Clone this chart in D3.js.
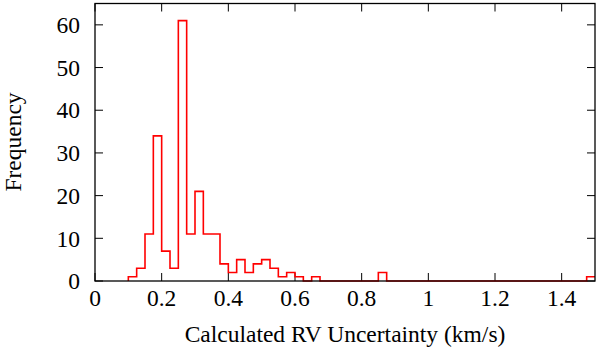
<!DOCTYPE html>
<head>
  <meta charset="utf-8">
  <script src="https://d3js.org/d3.v7.min.js"></script>
  <style type="text/css">
    body { margin: 0; background: #fff; }
    text { font-family: "Liberation Serif", "Times New Roman", serif; fill: #000; }
  </style>
</head>
<body>
  <script type="text/javascript">
    // histogram bins, width 0.025 km/s, starting at 0.1
    var binStart = 0.1,
        binWidth = 0.025;
    var counts = [1, 3, 11, 34, 7, 3, 61, 11, 21, 11, 11, 4,
                  2, 5, 2, 4, 5, 3, 1, 2, 1, 0, 1, 0,
                  0, 0, 0, 0, 0, 0, 2, 0, 0, 0, 0, 0,
                  0, 0, 0, 0, 0, 0, 0, 0, 0, 0, 0, 0,
                  0, 0, 0, 0, 0, 0, 0, 1];
    var xTicks = [0, 0.2, 0.4, 0.6, 0.8, 1, 1.2, 1.4];
    var yTicks = [0, 10, 20, 30, 40, 50, 60];

    var W = 600, H = 355;
    var margin = { top: 3.5, right: 5, bottom: 74, left: 95 },
        width = W - margin.left - margin.right,
        height = H - margin.top - margin.bottom;
    var fs = 23.5;

    var svg = d3.select("body").append("svg")
        .attr("width", W)
        .attr("height", H);

    var g = svg.append("g")
        .attr("transform", "translate(" + [margin.left, margin.top] + ")");

    var x = d3.scaleLinear().domain([0, 1.5]).range([0, width]);
    var y = d3.scaleLinear().domain([0, 65]).range([height, 0]);

    var tickLen = 8;

    // ticks (mirrored, inward)
    xTicks.forEach(function(t) {
      g.append("line").attr("x1", x(t)).attr("x2", x(t))
        .attr("y1", height).attr("y2", height - tickLen)
        .attr("stroke", "#000").attr("stroke-width", 1);
      g.append("line").attr("x1", x(t)).attr("x2", x(t))
        .attr("y1", 0).attr("y2", tickLen)
        .attr("stroke", "#000").attr("stroke-width", 1);
      g.append("text").attr("x", x(t)).attr("y", height + 24.5)
        .attr("text-anchor", "middle").attr("font-size", fs)
        .text(t);
    });
    yTicks.forEach(function(t) {
      g.append("line").attr("x1", 0).attr("x2", tickLen)
        .attr("y1", y(t)).attr("y2", y(t))
        .attr("stroke", "#000").attr("stroke-width", 1);
      g.append("line").attr("x1", width).attr("x2", width - tickLen)
        .attr("y1", y(t)).attr("y2", y(t))
        .attr("stroke", "#000").attr("stroke-width", 1);
      g.append("text").attr("x", -15).attr("y", y(t)).attr("dy", "0.35em")
        .attr("text-anchor", "end").attr("font-size", fs)
        .text(t);
    });

    // step outline
    var pts = [[binStart, 0]];
    counts.forEach(function(c, i) {
      var x0 = binStart + i * binWidth;
      pts.push([x0, c]);
      pts.push([x0 + binWidth, c]);
    });
    var line = d3.line()
        .x(function(d) { return x(d[0]); })
        .y(function(d) { return y(d[1]); });
    g.append("path").datum(pts)
      .attr("d", line)
      .attr("fill", "none")
      .attr("stroke", "#ff0000")
      .attr("stroke-width", 1.6);

    // frame
    g.append("rect").attr("width", width).attr("height", height)
      .attr("fill", "none").attr("stroke", "#000").attr("stroke-width", 1.3);

    // axis titles
    svg.append("text")
      .attr("x", 345).attr("y", 342)
      .attr("text-anchor", "middle").attr("font-size", fs)
      .text("Calculated RV Uncertainty (km/s)");
    svg.append("text")
      .attr("transform", "translate(21,142) rotate(-90)")
      .attr("text-anchor", "middle").attr("font-size", fs)
      .text("Frequency");
  </script>
</body>
